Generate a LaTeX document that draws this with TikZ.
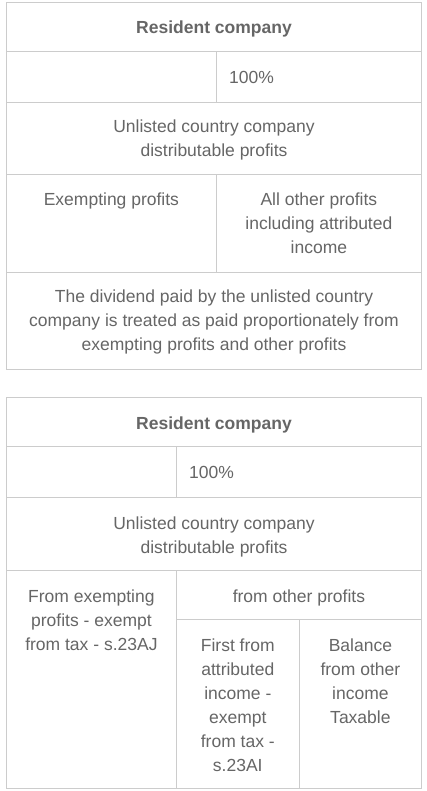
\documentclass[tikz,border=0pt]{standalone}
\usepackage{fontspec}
\setmainfont{Liberation Sans}
\usepackage{xcolor}
\usepackage{tikz}

\definecolor{gridgray}{HTML}{CCCCCC}
\definecolor{txtgray}{HTML}{666666}

\begin{document}
\begin{tikzpicture}[x=1pt,y=-1pt,
  cell/.style={draw=gridgray,line width=1pt,inner sep=0pt},
  txt/.style={text=txtgray,font=\fontsize{17.5}{24}\selectfont,align=center,inner sep=0pt,anchor=base}]
  \useasboundingbox[fill=white] (0,0) rectangle (426,791);

  % first table
  \node[cell,minimum height=49pt,  minimum width=415pt]  (c1head)  at (214,27.2)   {};
  \node[cell,minimum height=50.6pt,minimum width=209.8pt](c1blank) at (111.4,77)   {};
  \node[cell,minimum height=50.6pt,minimum width=205.2pt](c1pct)   at (318.9,77)   {};
  \node[cell,minimum height=72.7pt,minimum width=415pt]  (c1unl)   at (214,138.65) {};
  \node[cell,minimum height=97.3pt,minimum width=209.8pt](c1exe)   at (111.4,223.65) {};
  \node[cell,minimum height=97.3pt,minimum width=205.2pt](c1oth)   at (318.9,223.65) {};
  \node[cell,minimum height=97pt,  minimum width=415pt]  (c1div)   at (214,320.8)  {};

  % base of a text node = baseline of its last line
  \node[txt,font=\fontsize{17.5}{24}\selectfont\bfseries] (hd1) at (214,33.3) {Resident company};
  \node[txt,anchor=base west] (pc1) at (229,83.3) {100\%};
  \node[txt] (ul1) at (214,156.3) {Unlisted country company\\distributable profits};
  \node[txt] (ex1) at (111.4,205.7) {Exempting profits};
  \node[txt] (ot1) at (318.9,253.7) {All other profits\\including attributed\\income};
  \node[txt] (dv1) at (214,350.7) {The dividend paid by the unlisted country\\company is treated as paid proportionately from\\exempting profits and other profits};

  % second table
  \node[cell,minimum height=49pt,   minimum width=415pt]  (c2head)  at (214,421.8)  {};
  \node[cell,minimum height=51pt,   minimum width=169.8pt](c2blank) at (91.4,471.8) {};
  \node[cell,minimum height=51pt,   minimum width=245.2pt](c2pct)   at (298.9,471.8) {};
  \node[cell,minimum height=73pt,   minimum width=415pt]  (c2unl)   at (214,533.8)  {};
  \node[cell,minimum height=217.7pt,minimum width=169.8pt](c2exe)   at (91.4,679.15) {};
  \node[cell,minimum height=49.4pt, minimum width=245.2pt](c2from)  at (298.9,595)  {};
  \node[cell,minimum height=168.3pt,minimum width=123pt]  (c2att)   at (237.8,703.85) {};
  \node[cell,minimum height=168.3pt,minimum width=122.2pt](c2bal)   at (360.4,703.85) {};

  \node[txt,font=\fontsize{17.5}{24}\selectfont\bfseries] (hd2) at (214,429) {Resident company};
  \node[txt,anchor=base west] (pc2) at (189,478.3) {100\%};
  \node[txt] (ul2) at (214,553) {Unlisted country company\\distributable profits};
  \node[txt] (ex2) at (91.4,650.3) {From exempting\\profits - exempt\\from tax - s.23AJ};
  \node[txt] (fr2) at (298.9,602.3) {from other profits};
  \node[txt] (at2) at (237.8,771) {First from\\attributed\\income -\\exempt\\from tax -\\s.23AI};
  \node[txt] (bl2) at (360.4,723) {Balance\\from other\\income\\Taxable};
\end{tikzpicture}
\end{document}
